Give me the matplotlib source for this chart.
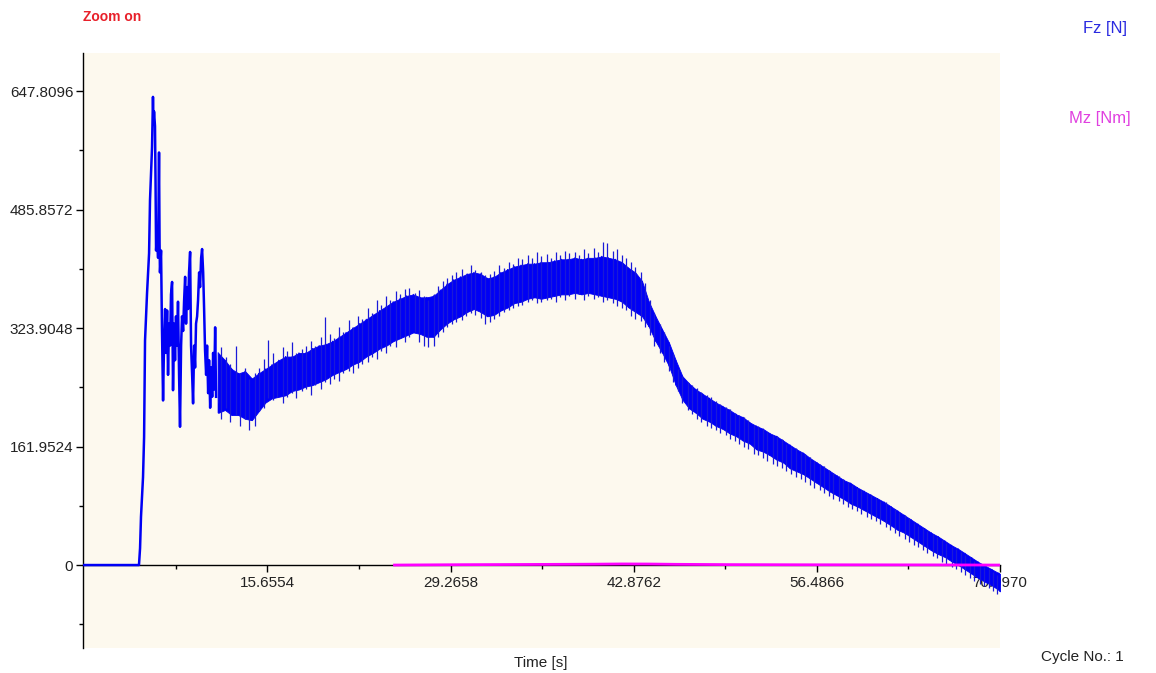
import matplotlib
matplotlib.use('Agg')
import matplotlib.pyplot as plt
import numpy as np

plt.rcParams['font.family'] = ['Liberation Sans', 'DejaVu Sans']

# ---------------- data ----------------
x_ticks = [15.6554, 29.2658, 42.8762, 56.4866, 70.0970]
x_labels = ['15.6554', '29.2658', '42.8762', '56.4866', '70.0970']
x_minor = [8.8502, 22.4606, 36.0710, 49.6814, 63.2918]
y_ticks = [0, 161.9524, 323.9048, 485.8572, 647.8096]
y_labels = ['0', '161.9524', '323.9048', '485.8572', '647.8096']
y_minor = [-80.9762, 80.9762, 242.9286, 404.8810, 566.8334]

# Fz: start-up and oscillating part (line)
fz_early_t = [1.95, 6.11, 6.19, 6.26, 6.41, 6.49, 6.56, 6.71, 6.86, 6.93, 7.08, 7.15,
              7.19, 7.23, 7.30, 7.34, 7.38, 7.45, 7.53, 7.60, 7.64, 7.67, 7.75, 7.82,
              7.90, 7.97, 8.05, 8.12, 8.20, 8.27, 8.34, 8.42, 8.49, 8.57, 8.64, 8.72,
              8.79, 8.86, 8.94, 9.01, 9.09, 9.16, 9.24, 9.31, 9.39, 9.46, 9.54, 9.61,
              9.68, 9.76, 9.83, 9.91, 9.98, 10.06, 10.13, 10.21, 10.28, 10.35, 10.43,
              10.50, 10.58, 10.65, 10.73, 10.80, 10.88, 10.95, 11.02, 11.10, 11.17,
              11.25, 11.32, 11.40, 11.47, 11.55, 11.62, 11.70, 11.77, 11.84]
fz_early = [0, 0, 23, 66, 120, 175, 307, 372, 426, 499, 571, 640,
            605, 620, 600, 526, 430, 455, 420, 564, 440, 400, 430, 321,
            225, 300, 350, 290, 348, 260, 330, 300, 370, 387, 239, 330,
            280, 340, 300, 360, 260, 189, 300, 340, 320, 360, 394, 330,
            380, 350, 400, 428, 300, 260, 221, 300, 270, 330, 340,
            362, 400, 380, 420, 432, 400, 350, 294, 260, 300,
            235, 280, 215, 270, 230, 290, 240, 325, 230]

# Fz: noisy band (upper / lower envelope)
band_t = [12.0, 12.5, 13.0, 13.5, 14.0, 14.5, 15.0, 15.5, 16.0, 16.5, 17.0, 17.5,
          18.0, 18.5, 19.0, 19.5, 20.0, 20.5, 21.0, 21.5, 22.0, 22.5, 23.0, 23.5,
          24.0, 24.5, 25.0, 25.5, 26.0, 26.5, 27.0, 27.5, 28.0, 28.5, 29.0, 29.5,
          30.0, 30.5, 31.0, 31.5, 32.0, 32.5, 33.0, 33.5, 34.0, 34.5, 35.0, 35.5,
          36.0, 36.5, 37.0, 37.5, 38.0, 38.5, 39.0, 39.5, 40.0, 40.5, 41.0, 41.5,
          42.0, 42.5, 43.0, 43.5, 44.0, 44.5, 45.0, 45.5, 46.0, 46.5, 47.0, 47.5,
          48.0, 48.5, 49.0, 49.5, 50.0, 50.5, 51.0, 51.5, 52.0, 52.5, 53.0, 53.5,
          54.0, 54.5, 55.0, 55.5, 56.0, 56.5, 57.0, 57.5, 58.0, 58.5, 59.0, 59.5,
          60.0, 60.5, 61.0, 61.5, 62.0, 62.5, 63.0, 63.5, 64.0, 64.5, 65.0, 65.5,
          66.0, 66.5, 67.0, 67.5, 68.0, 68.5, 69.0, 69.5, 70.0, 70.097]
band_hi = [290, 280, 268, 262, 265, 255, 262, 268, 274, 280, 285, 285,
           290, 290, 296, 300, 302, 306, 312, 318, 324, 330, 336, 342,
           348, 354, 360, 364, 368, 370, 366, 366, 368, 376, 384, 390,
           394, 398, 400, 398, 392, 394, 400, 404, 408, 410, 412, 412,
           414, 414, 416, 418, 418, 420, 418, 420, 420, 422, 420, 418,
           414, 406, 400, 388, 360, 340, 322, 304, 280, 258, 248, 240,
           234, 228, 222, 217, 212, 206, 202, 195, 190, 186, 180, 176,
           170, 164, 158, 153, 146, 140, 134, 128, 122, 116, 112, 106,
           101, 96, 91, 86, 80, 74, 68, 62, 56, 50, 44, 39,
           33, 27, 22, 16, 10, 4, -1, -6, -11, -12]
band_lo = [208, 212, 205, 205, 200, 198, 210, 222, 228, 230, 232, 238,
           240, 244, 246, 250, 254, 260, 264, 268, 274, 278, 285, 290,
           296, 300, 306, 310, 314, 318, 316, 312, 312, 322, 330, 336,
           340, 346, 350, 346, 340, 342, 348, 352, 358, 360, 364, 366,
           364, 366, 368, 370, 370, 372, 370, 372, 370, 368, 366, 364,
           360, 352, 346, 340, 326, 306, 290, 272, 246, 226, 214, 208,
           200, 196, 190, 186, 180, 176, 170, 166, 158, 155, 150, 144,
           140, 132, 128, 124, 118, 112, 106, 100, 95, 90, 84, 80,
           75, 70, 65, 60, 54, 48, 44, 38, 32, 26, 20, 15,
           11, 5, 0, -6, -12, -18, -23, -28, -34, -36]

# Fz: single spikes sticking out of the band
spike_t = [12.2, 12.6, 12.9, 13.3, 13.6, 14.0, 14.3, 14.7, 15.0, 15.4, 15.7, 16.1,
           16.4, 16.8, 17.1, 17.5, 17.8, 18.2, 18.5, 18.9, 19.2, 19.6, 19.9, 20.3,
           20.6, 21.0, 21.3, 21.7, 22.0, 22.4, 22.7, 23.1, 23.4, 23.8, 24.1, 24.5,
           24.8, 25.2, 25.5, 25.9, 26.2, 26.6, 26.9, 27.3, 27.6, 28.0, 28.3, 28.7,
           29.0, 29.4, 29.7, 30.1, 30.4, 30.8, 31.1, 31.5, 31.8, 32.2, 32.5, 32.9,
           33.2, 33.6, 33.9, 34.3, 34.6, 35.0, 35.3, 35.7, 36.0, 36.4, 36.7, 37.1,
           37.4, 37.8, 38.1, 38.5, 38.8, 39.2, 39.5, 39.9, 40.2, 40.6, 40.9, 41.3,
           41.6, 42.0, 42.3, 42.7, 43.0, 43.4, 43.7, 44.1, 44.4, 44.8, 45.1, 45.5,
           45.8, 46.2, 46.5, 46.9, 47.2, 47.6, 47.9, 48.3, 48.6, 49.0, 49.3, 49.7,
           50.0, 50.4, 50.7, 51.1, 51.4, 51.8, 52.1, 52.5, 52.8, 53.2, 53.5, 53.9,
           54.2, 54.6, 54.9, 55.3, 55.6, 56.0, 56.3, 56.7, 57.0, 57.4, 57.7, 58.1,
           58.4, 58.8, 59.1, 59.5, 59.8, 60.2, 60.5, 60.9, 61.2, 61.6, 61.9, 62.3,
           62.6, 63.0, 63.3, 63.7, 64.0, 64.4, 64.7, 65.1, 65.4, 65.8, 66.1, 66.5,
           66.8, 67.2, 67.5, 67.9, 68.2, 68.6, 68.9, 69.3, 69.6, 69.9]
spike_lo = [200, 215, 195, 205, 190, 200, 185, 190, 210, 215, 228, 225,
            230, 222, 230, 235, 228, 238, 240, 232, 246, 240, 250, 248,
            255, 252, 262, 265, 262, 270, 275, 278, 285, 282, 292, 290,
            300, 298, 310, 305, 312, 318, 305, 300, 298, 300, 312, 318,
            325, 330, 332, 335, 340, 345, 342, 338, 330, 332, 336, 340,
            346, 348, 352, 354, 356, 360, 362, 358, 360, 362, 364, 360,
            366, 362, 368, 364, 370, 362, 368, 364, 366, 360, 362, 358,
            354, 352, 348, 340, 336, 334, 325, 315, 300, 290, 278, 265,
            250, 238, 222, 212, 206, 200, 195, 190, 188, 184, 180, 178,
            172, 170, 165, 162, 158, 152, 150, 146, 142, 138, 136, 132,
            128, 124, 120, 118, 114, 110, 106, 102, 98, 94, 90, 88,
            84, 80, 76, 74, 70, 66, 63, 60, 56, 52, 48, 44,
            40, 36, 32, 28, 24, 20, 16, 12, 9, 4, 0, -2,
            -6, -10, -14, -18, -22, -26, -28, -32, -36, -40]
spike_hi = [298, 285, 275, 300, 262, 270, 255, 262, 270, 282, 307, 290,
            278, 298, 292, 305, 290, 296, 300, 306, 300, 312, 339, 316,
            310, 325, 318, 335, 326, 340, 336, 352, 345, 362, 355, 368,
            362, 375, 370, 378, 379, 372, 376, 368, 362, 370, 382, 388,
            392, 396, 400, 405, 398, 410, 404, 400, 396, 398, 402, 410,
            406, 414, 412, 420, 418, 424, 420, 428, 422, 425, 420, 428,
            424, 430, 426, 428, 424, 432, 426, 434, 428, 442, 440, 430,
            432, 424, 420, 414, 408, 400, 385, 362, 345, 330, 318, 300,
            288, 268, 258, 250, 246, 242, 236, 232, 230, 224, 220, 216,
            214, 208, 205, 202, 198, 192, 190, 186, 182, 178, 176, 172,
            166, 162, 160, 154, 152, 148, 142, 138, 135, 130, 126, 122,
            118, 114, 110, 106, 102, 98, 96, 92, 88, 86, 80, 76,
            72, 68, 64, 58, 54, 50, 46, 42, 38, 34, 30, 25,
            22, 18, 14, 10, 6, 2, -2, -6, -10, -14]

# Mz
mz_t = [25.1, 30.0, 35.0, 40.0, 42.0, 44.0, 46.0, 50.0, 55.0, 60.0, 65.0, 70.097]
mz = [0, 0.5, 0.8, 1.2, 1.5, 1.4, 1.0, 0.6, 0.4, 0.3, 0.2, 0]

# ---------------- figure ----------------
W, H = 1156, 673
fig = plt.figure(figsize=(W / 100, H / 100), dpi=100, facecolor='white')
ax = fig.add_axes([83 / W, 1 - 648 / H, (1000 - 83) / W, (648 - 53) / H])
ax.set_facecolor('#FDF9EE')

blue = '#0000F5'
ax.plot(fz_early_t, fz_early, color=blue, lw=1.8, zorder=3)
ax.fill_between(band_t, band_lo, band_hi, color=blue, lw=0.6, zorder=3)
zig_t = np.repeat(band_t, 2)
zig_v = np.column_stack([band_hi, band_lo]).ravel()
ax.plot(zig_t, zig_v, color=blue, lw=0.8, zorder=3)
ax.vlines(spike_t, spike_lo, spike_hi, color='#1A1AD8', lw=0.9, zorder=3)
ax.plot(mz_t, mz, color='#FF00FF', lw=2.0, zorder=4)

ax.set_xlim(1.95, 70.097)
ax.set_ylim(-113.4, 700)

for s in ['top', 'right']:
    ax.spines[s].set_visible(False)
ax.spines['bottom'].set_position(('data', 0))
ax.spines['bottom'].set_linewidth(1.0)
ax.spines['left'].set_linewidth(1.0)

ax.set_xticks(x_ticks, x_labels)
ax.set_xticks(x_minor, minor=True)
ax.set_yticks(y_ticks, y_labels)
ax.set_yticks(y_minor, minor=True)
ax.tick_params(axis='both', which='major', length=5, width=1, labelsize=11,
               labelcolor='#222222', direction='out', pad=2)
ax.tick_params(axis='both', which='minor', length=3, width=1, direction='out')
ax.tick_params(axis='x', which='major', pad=3)

fig.text(83 / W, 1 - 17 / H, 'Zoom on', color='#E8202A', fontsize=10,
         fontweight='bold', ha='left', va='center')
fig.text(1083 / W, 1 - 28 / H, 'Fz [N]', color='#2A2AE0', fontsize=12,
         ha='left', va='center')
fig.text(1069 / W, 1 - 118 / H, 'Mz [Nm]', color='#E040E0', fontsize=12,
         ha='left', va='center')
fig.text(541 / W, 1 - 663 / H, 'Time [s]', color='#222222', fontsize=11,
         ha='center', va='center')
fig.text(1041 / W, 1 - 657 / H, 'Cycle No.: 1', color='#222222', fontsize=11,
         ha='left', va='center')

fig.savefig('out.png', dpi=100, facecolor='white')
